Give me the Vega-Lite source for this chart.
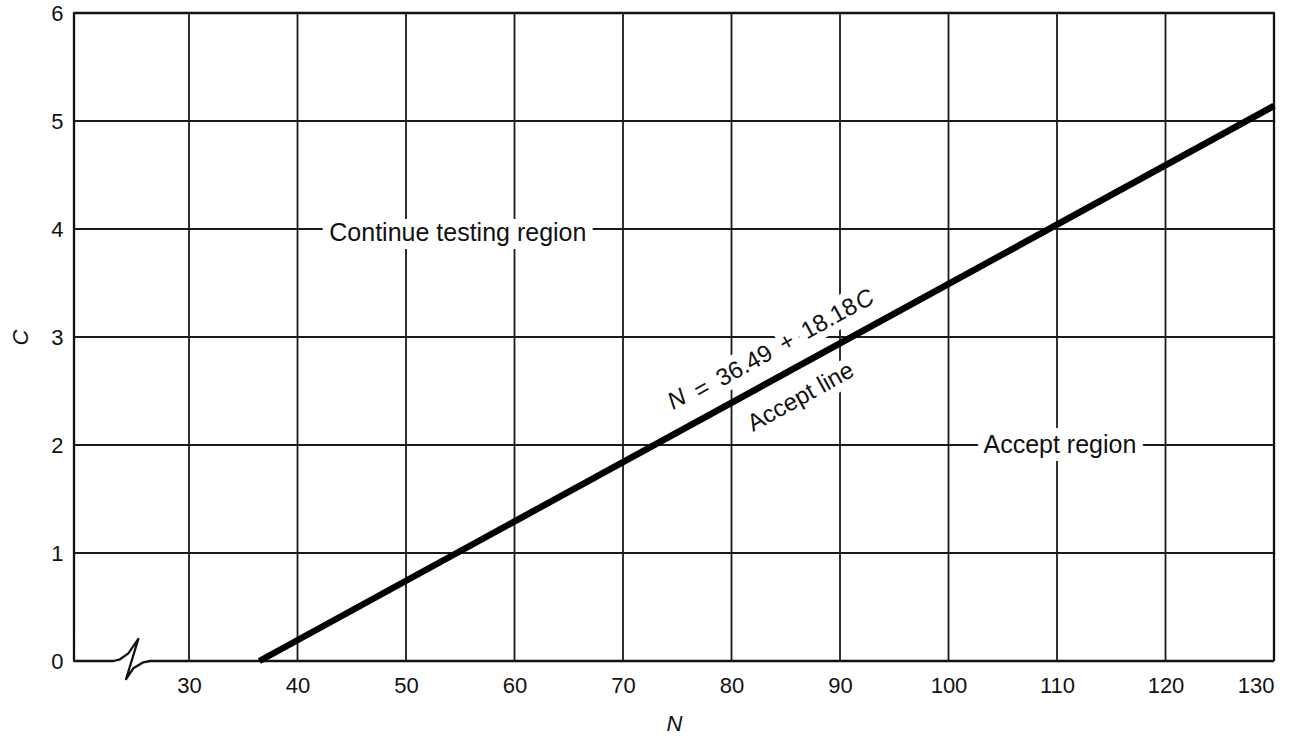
{
  "$schema": "https://vega.github.io/schema/vega-lite/v6.json",
  "description": "Sequential test chart: accept line N = 36.49 + 18.18C",
  "width": 1200,
  "height": 648,
  "autosize": {"type": "none"},
  "padding": {"left": 74, "top": 13, "right": 28, "bottom": 79},
  "background": "white",
  "config": {
    "view": {"stroke": null},
    "font": "Liberation Sans",
    "text": {"font": "Liberation Sans", "color": "#111"}
  },
  "datasets": {
    "gridV": [
      {"N": 30, "C": 0, "C2": 6}, {"N": 40, "C": 0, "C2": 6},
      {"N": 50, "C": 0, "C2": 6}, {"N": 60, "C": 0, "C2": 6},
      {"N": 70, "C": 0, "C2": 6}, {"N": 80, "C": 0, "C2": 6},
      {"N": 90, "C": 0, "C2": 6}, {"N": 100, "C": 0, "C2": 6},
      {"N": 110, "C": 0, "C2": 6}, {"N": 120, "C": 0, "C2": 6}
    ],
    "gridH": [
      {"N": 19.4, "N2": 130, "C": 1}, {"N": 19.4, "N2": 130, "C": 2},
      {"N": 19.4, "N2": 130, "C": 3}, {"N": 19.4, "N2": 130, "C": 4},
      {"N": 19.4, "N2": 130, "C": 5}
    ],
    "frame": [
      {"i": 0, "N": 130, "C": 0},
      {"i": 1, "N": 130, "C": 6},
      {"i": 2, "N": 19.4, "C": 6},
      {"i": 3, "N": 19.4, "C": 0},
      {"i": 4, "N": 23.03, "C": 0},
      {"i": 5, "N": 23.64, "C": 0.016},
      {"i": 6, "N": 24.41, "C": 0.071},
      {"i": 7, "N": 25.33, "C": 0.204},
      {"i": 8, "N": 24.2, "C": -0.167},
      {"i": 9, "N": 24.87, "C": -0.068},
      {"i": 10, "N": 25.79, "C": -0.012},
      {"i": 11, "N": 26.41, "C": 0},
      {"i": 12, "N": 130, "C": 0}
    ],
    "regions": [
      {"N": 54.78, "C": 3.96, "label": "Continue testing region"},
      {"N": 110.27, "C": 2.0, "label": "Accept region"}
    ],
    "eqItalic": [
      {"N": 75.0, "C": 2.42, "label": "N"},
      {"N": 92.3, "C": 3.34, "label": "C"}
    ],
    "eqPlain": [
      {"N": 84.1, "C": 2.89, "label": "=\u00a0\u200936.49\u00a0\u2009+\u00a0\u200918.18"},
      {"N": 86.4, "C": 2.44, "label": "Accept line"}
    ],
    "accept": [
      {"N": 36.49, "C": 0},
      {"N": 130, "C": 5.14}
    ]
  },
  "encoding": {
    "x": {
      "field": "N",
      "type": "quantitative",
      "scale": {"domain": [19.4, 130], "nice": false, "zero": false},
      "axis": {
        "values": [30, 40, 50, 60, 70, 80, 90, 100, 110, 120, 130],
        "domain": false,
        "ticks": false,
        "grid": false,
        "labelFont": "Liberation Sans",
        "labelFontSize": 22,
        "labelColor": "#111",
        "labelPadding": 14,
        "title": "N",
        "titleFont": "Liberation Sans",
        "titleFontSize": 22,
        "titleFontStyle": "italic",
        "titleFontWeight": "normal",
        "titleColor": "#111",
        "titlePadding": 17
      }
    },
    "y": {
      "field": "C",
      "type": "quantitative",
      "scale": {"domain": [0, 6], "nice": false, "zero": false},
      "axis": {
        "values": [0, 1, 2, 3, 4, 5, 6],
        "domain": false,
        "ticks": false,
        "grid": false,
        "labelFont": "Liberation Sans",
        "labelFontSize": 22,
        "labelColor": "#111",
        "labelPadding": 11,
        "title": "C",
        "titleFont": "Liberation Sans",
        "titleFontSize": 22,
        "titleFontStyle": "italic",
        "titleFontWeight": "normal",
        "titleColor": "#111",
        "titlePadding": 18
      }
    }
  },
  "layer": [
    {
      "data": {"name": "gridV"},
      "mark": {"type": "rule", "color": "#1a1a1a", "strokeWidth": 1.8},
      "encoding": {"y2": {"field": "C2"}}
    },
    {
      "data": {"name": "gridH"},
      "mark": {"type": "rule", "color": "#1a1a1a", "strokeWidth": 1.8},
      "encoding": {"x2": {"field": "N2"}}
    },
    {
      "data": {"name": "frame"},
      "mark": {"type": "line", "color": "#111", "strokeWidth": 2.3, "strokeJoin": "round"},
      "encoding": {"order": {"field": "i", "type": "quantitative"}}
    },
    {
      "data": {"name": "regions"},
      "mark": {"type": "text", "fontSize": 25, "align": "center", "baseline": "middle", "fill": "white", "stroke": "white", "strokeWidth": 16},
      "encoding": {"text": {"field": "label"}}
    },
    {
      "data": {"name": "eqItalic"},
      "mark": {"type": "text", "fontSize": 24, "fontStyle": "italic", "angle": -29, "align": "center", "baseline": "middle", "fill": "white", "stroke": "white", "strokeWidth": 14},
      "encoding": {"text": {"field": "label"}}
    },
    {
      "data": {"name": "eqPlain"},
      "mark": {"type": "text", "fontSize": 24, "angle": -29, "align": "center", "baseline": "middle", "fill": "white", "stroke": "white", "strokeWidth": 14},
      "encoding": {"text": {"field": "label"}}
    },
    {
      "data": {"name": "regions"},
      "mark": {"type": "text", "fontSize": 25, "align": "center", "baseline": "middle", "color": "#111"},
      "encoding": {"text": {"field": "label"}}
    },
    {
      "data": {"name": "eqItalic"},
      "mark": {"type": "text", "fontSize": 24, "fontStyle": "italic", "angle": -29, "align": "center", "baseline": "middle", "color": "#111"},
      "encoding": {"text": {"field": "label"}}
    },
    {
      "data": {"name": "eqPlain"},
      "mark": {"type": "text", "fontSize": 24, "angle": -29, "align": "center", "baseline": "middle", "color": "#111"},
      "encoding": {"text": {"field": "label"}}
    },
    {
      "data": {"name": "accept"},
      "mark": {"type": "line", "color": "#000", "strokeWidth": 6.5, "strokeCap": "butt"},
      "encoding": {}
    }
  ]
}
